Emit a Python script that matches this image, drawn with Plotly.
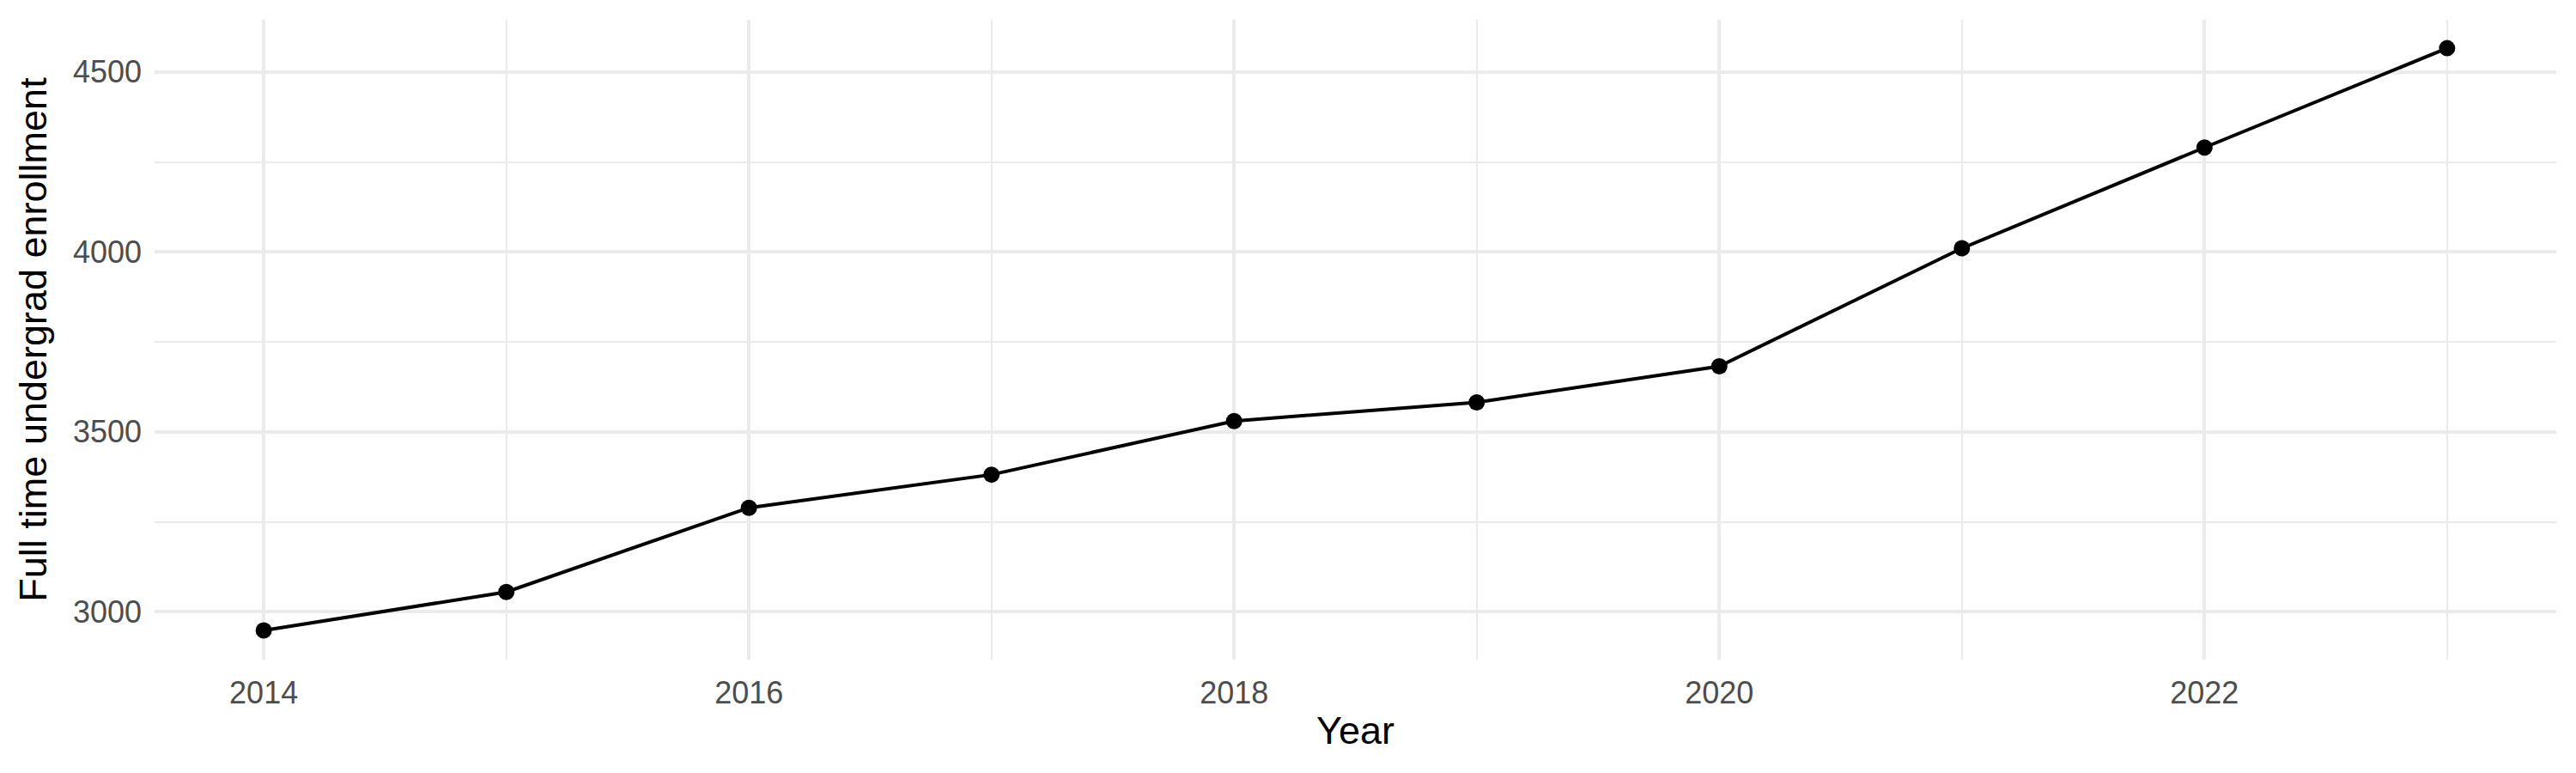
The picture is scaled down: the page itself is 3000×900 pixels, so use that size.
import plotly.graph_objects as go

# enrollment by year
years = [2014, 2015, 2016, 2017, 2018, 2019, 2020, 2021, 2022, 2023]
enrollment = [2948, 3055, 3289, 3381, 3530, 3582, 3682, 4010, 4290, 4566]

fig = go.Figure()
fig.add_trace(go.Scatter(x=years, y=enrollment, mode='lines+markers',
                         line=dict(color='#000000', width=4),
                         marker=dict(color='#000000', size=19), showlegend=False))

grid_major = '#EBEBEB'

fig.update_xaxes(title_text='Year', title_font=dict(size=45, color='#000000'),
                 title_standoff=8,
                 range=[2013.55, 2023.45], tickmode='linear', tick0=2014, dtick=2,
                 tickfont=dict(size=36, color='#4D4D4D'), ticklabelstandoff=14,
                 showgrid=True, gridcolor=grid_major, gridwidth=4,
                 minor=dict(showgrid=True, gridcolor=grid_major, gridwidth=2, tick0=2014, dtick=1),
                 zeroline=False, showline=False)

fig.update_yaxes(title_text='Full time undergrad enrollment', title_font=dict(size=45, color='#000000'),
                 title_standoff=16,
                 range=[2867, 4645], tickmode='linear', tick0=3000, dtick=500,
                 tickfont=dict(size=36, color='#4D4D4D'), ticklabelstandoff=14,
                 showgrid=True, gridcolor=grid_major, gridwidth=4,
                 minor=dict(showgrid=True, gridcolor=grid_major, gridwidth=2, tick0=3000, dtick=250),
                 zeroline=False, showline=False)

# the page body adds 8px on the top and left, so margins are shifted to match
fig.update_layout(width=3000, height=900, plot_bgcolor='white', paper_bgcolor='white',
                  font=dict(family='Liberation Sans'),
                  margin=dict(l=172, r=31, t=15, b=140, autoexpand=False))

fig.write_html("out.html")
